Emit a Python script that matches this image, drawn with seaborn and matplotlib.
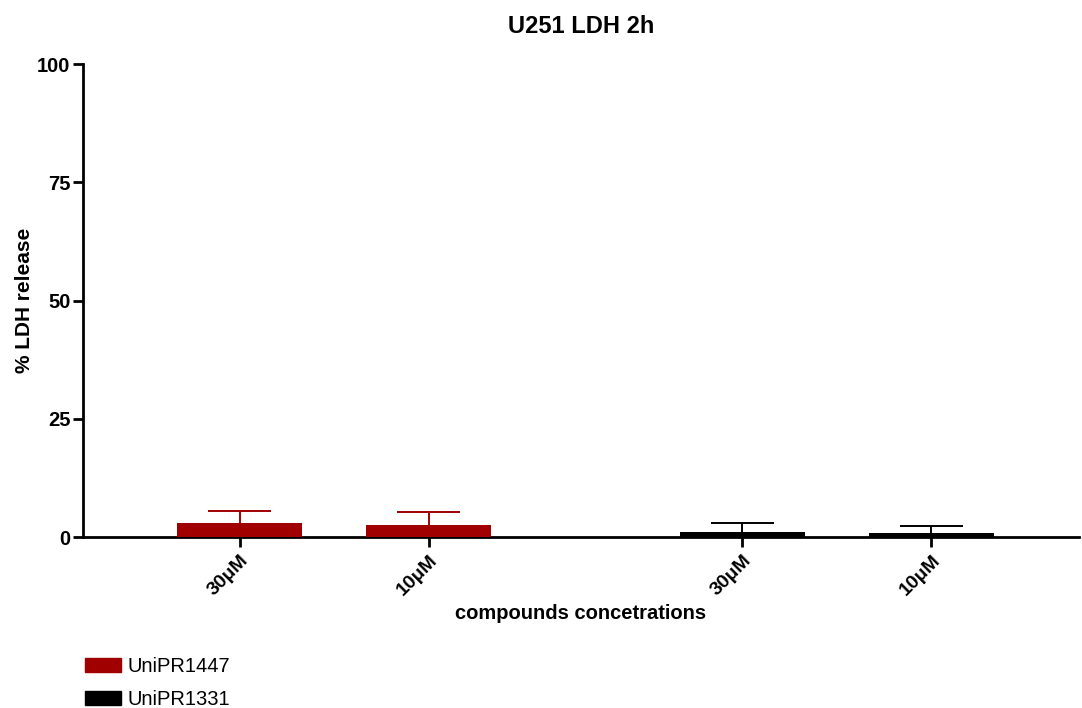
import numpy as np
import pandas as pd
import matplotlib.pyplot as plt
import seaborn as sns
from matplotlib.patches import Patch
import matplotlib.transforms as mtransforms

compounds = ["UniPR1447", "UniPR1447", "UniPR1331", "UniPR1331"]
concentrations = ["30\u03bcM", "10\u03bcM", "30\u03bcM", "10\u03bcM"]
means = [3.0, 2.5, 1.0, 0.8]
sds = [2.6, 2.85, 2.0, 1.5]
positions = [0.0, 1.0, 2.66, 3.66]
colors = {"UniPR1447": "#A00000", "UniPR1331": "#000000"}

df = pd.DataFrame({"pos": positions, "mean": means, "sd": sds,
                   "compound": compounds, "conc": concentrations})

sns.set_theme(style="ticks")
plt.rcParams["font.family"] = ["Liberation Sans", "DejaVu Sans"]
plt.rcParams["text.color"] = "black"
plt.rcParams["axes.labelcolor"] = "black"
plt.rcParams["xtick.color"] = "black"
plt.rcParams["ytick.color"] = "black"

fig = plt.figure(figsize=(10.82, 7.08), dpi=100)
ax = fig.add_axes([0.0767, 0.2415, 0.9203, 0.6681])

sns.barplot(data=df, x="pos", y="mean", hue="compound", palette=colors,
            native_scale=True, dodge=False, width=0.66, errorbar=None,
            saturation=1, linewidth=0, legend=False, ax=ax, zorder=3)

# upper error bars only (mean + SD)
cap = 0.335
for _, r in df.iterrows():
    c = colors[r["compound"]]
    top = r["mean"] + r["sd"]
    ax.vlines(r["pos"], r["mean"], top, color=c, linewidth=1.4, zorder=2)
    ax.hlines(top, r["pos"] - cap / 2, r["pos"] + cap / 2, color=c,
              linewidth=1.4, zorder=2)

ax.set_xlim(-0.83, 4.44)
ax.set_ylim(0, 100)
ax.set_yticks([0, 25, 50, 75, 100])
ax.set_xticks(positions)
ax.set_xticklabels(concentrations, rotation=45, ha="right",
                   rotation_mode="anchor", fontweight="bold", fontsize=14)
offset = mtransforms.ScaledTranslation(6 / 100, -4 / 100, fig.dpi_scale_trans)
for lab in ax.get_xticklabels():
    lab.set_transform(lab.get_transform() + offset)
for lab in ax.get_yticklabels():
    lab.set_fontweight("bold")
    lab.set_fontsize(14.5)
ax.tick_params(axis="both", width=2, length=7, color="black")
ax.tick_params(axis="y", pad=2)
for s in ["left", "bottom"]:
    ax.spines[s].set_linewidth(2)
    ax.spines[s].set_color("black")
sns.despine(ax=ax)

ax.set_title("U251 LDH 2h", fontweight="bold", fontsize=17, pad=22)
ax.set_ylabel("% LDH release", fontweight="bold", fontsize=15, labelpad=2)
ax.set_xlabel("compounds concetrations", fontweight="bold", fontsize=14.5,
              labelpad=4)

handles = [Patch(color=colors["UniPR1447"], label="UniPR1447"),
           Patch(color=colors["UniPR1331"], label="UniPR1331")]
fig.legend(handles=handles, loc="lower left", bbox_to_anchor=(0.062, -0.027),
           frameon=False, fontsize=14.5, handlelength=1.8, handleheight=0.7,
           labelspacing=0.7, handletextpad=0.3)

fig.savefig("out.png", dpi=100)
